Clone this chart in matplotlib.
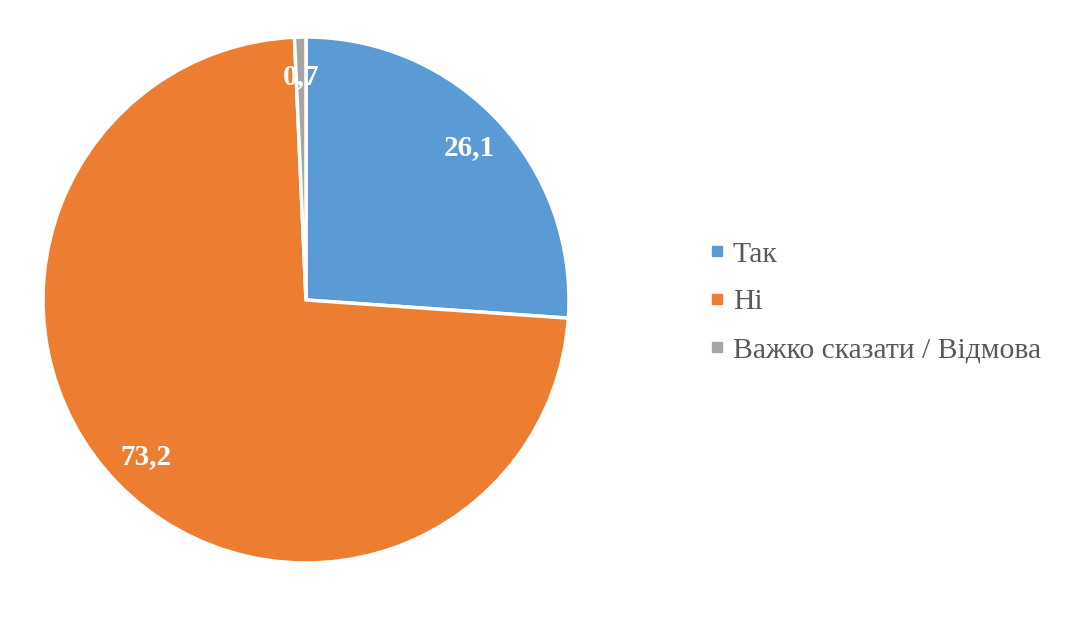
import matplotlib
matplotlib.use("Agg")
import matplotlib.pyplot as plt
from matplotlib.lines import Line2D

categories = ["Так", "Ні", "Важко сказати / Відмова"]
values = [26.1, 73.2, 0.7]
labels = ["26,1", "73,2", "0,7"]
colors = ["#5B9BD5", "#ED7D31", "#A5A5A5"]

W, H = 1084, 637
fig = plt.figure(figsize=(W / 100, H / 100), dpi=100)
cx, cy, r = 306, 300, 263
ax = fig.add_axes([(cx - r) / W, (H - cy - r) / H, 2 * r / W, 2 * r / H])
wedges, texts = ax.pie(values, colors=colors, startangle=90, counterclock=False,
                       labels=labels, labeldistance=0.85,
                       wedgeprops=dict(edgecolor="white", linewidth=2.5),
                       textprops=dict(color="white", fontsize=21, fontweight="bold",
                                      family="Liberation Serif"))
for t in texts:
    t.set_ha("center")
    t.set_va("center")
ax.set_xlim(-1.0, 1.0)
ax.set_ylim(-1.0, 1.0)
ax.set_aspect("equal")
ax.axis("off")

handles = [Line2D([], [], marker="s", linestyle="none", markersize=6.5,
                  markerfacecolor=c, markeredgecolor=c) for c in colors]
fig.legend(handles, categories, loc="center left",
           bbox_to_anchor=(684 / W, 1 - 302 / H), frameon=False,
           prop=dict(family="Liberation Serif", size=21.3), labelcolor="#595959",
           handlelength=0.45, handletextpad=0.3, labelspacing=0.71)

fig.savefig("out.png", dpi=100, facecolor="white")
